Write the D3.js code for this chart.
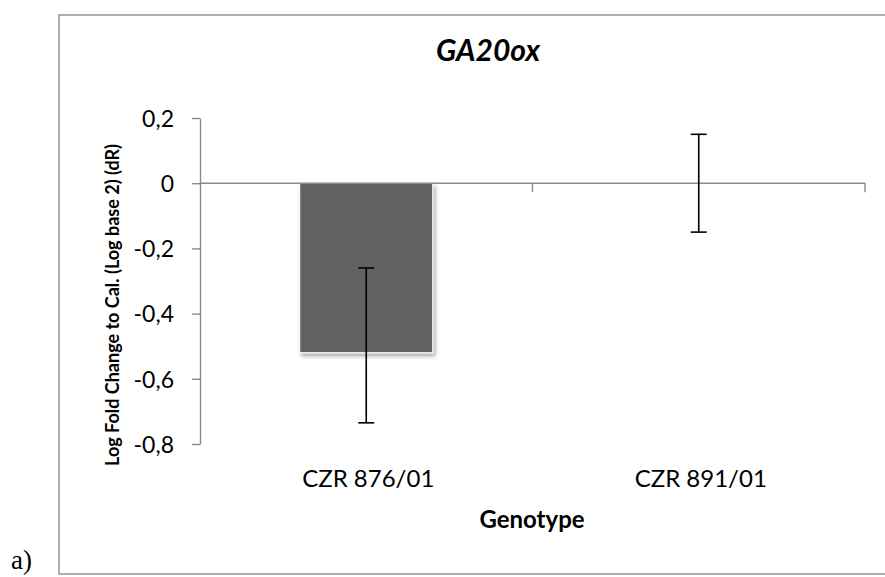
<!DOCTYPE html>
<html>
<head>
<meta charset="utf-8">
<script src="https://cdn.jsdelivr.net/npm/d3@7"></script>
<style>
    body { margin: 0; background: #fff; }
    svg text { font-family: Lato, "Open Sans", sans-serif; fill: #000; }
</style>
</head>
<body>
<div id="chart"></div>
<script>
// data
const genotypes = ["CZR 876/01", "CZR 891/01"];
const values = [-0.52, 0];
const errTop = [-0.26, 0.15];
const errBottom = [-0.735, -0.15];
const yTicks = [0.2, 0, -0.2, -0.4, -0.6, -0.8];

const width = 885, height = 577;
const margin = {top: 118, right: 20, bottom: 133, left: 200};
const plotRight = 865;

const svg = d3.select("#chart").append("svg")
    .attr("width", width)
    .attr("height", height);

const defs = svg.append("defs");
const shadow = defs.append("filter")
    .attr("id", "shadow")
    .attr("x", "-10%").attr("y", "-10%")
    .attr("width", "130%").attr("height", "130%");
shadow.append("feDropShadow")
    .attr("dx", 2).attr("dy", 3)
    .attr("stdDeviation", 2)
    .attr("flood-color", "#000")
    .attr("flood-opacity", 0.35);

// outer frame
svg.append("rect")
    .attr("x", 59).attr("y", 15)
    .attr("width", 840).attr("height", 559)
    .attr("fill", "none")
    .attr("stroke", "#8a8a8a")
    .attr("stroke-width", 1.4);

svg.append("text")
    .attr("x", 11).attr("y", 569)
    .style("font-family", "'Liberation Serif', 'Times New Roman', serif")
    .style("font-size", "27px")
    .text("a)");

const x = d3.scaleBand()
    .domain(genotypes)
    .range([margin.left, plotRight])
    .paddingInner(0.6)
    .paddingOuter(0.3);

const y = d3.scaleLinear()
    .domain([-0.8, 0.2])
    .range([444, margin.top]);

const fmt = d => d === 0 ? "0" : d3.format(".1f")(d).replace(".", ",").replace("−", "-");

// bars
svg.selectAll(".bar")
    .data(genotypes)
    .enter().append("rect")
    .attr("class", "bar")
    .attr("x", d => x(d))
    .attr("width", x.bandwidth())
    .attr("y", (d, i) => y(Math.max(0, values[i])))
    .attr("height", (d, i) => Math.abs(y(values[i]) - y(0)))
    .attr("fill", "#626262")
    .attr("stroke", "#fff")
    .attr("stroke-width", 1)
    .attr("filter", "url(#shadow)");

// y axis
const yAxis = d3.axisLeft(y)
    .tickValues(yTicks)
    .tickFormat(fmt)
    .tickSize(8)
    .tickSizeOuter(0)
    .tickPadding(18);

const yAxisG = svg.append("g")
    .attr("transform", `translate(${margin.left},0)`)
    .call(yAxis);
yAxisG.select(".domain").attr("stroke", "#8a8a8a").attr("stroke-width", 1.4);
yAxisG.selectAll(".tick line").attr("stroke", "#8a8a8a").attr("stroke-width", 1.4);
yAxisG.selectAll(".tick text")
    .style("font-size", "23px")
    .attr("dy", "0.36em");

// x axis along zero, ticks at band boundaries
const bounds = [margin.left, x(genotypes[1]) - x.step() * 0.3, plotRight];
const xAxisG = svg.append("g").attr("class", "x-axis");
xAxisG.append("line")
    .attr("x1", margin.left).attr("x2", plotRight)
    .attr("y1", y(0)).attr("y2", y(0))
    .attr("stroke", "#8a8a8a").attr("stroke-width", 1.4);
xAxisG.selectAll(".xtick")
    .data(bounds.slice(1))
    .enter().append("line")
    .attr("class", "xtick")
    .attr("x1", d => d).attr("x2", d => d)
    .attr("y1", y(0)).attr("y2", y(0) + 9)
    .attr("stroke", "#8a8a8a").attr("stroke-width", 1.4);

// category labels
svg.selectAll(".cat")
    .data(genotypes)
    .enter().append("text")
    .attr("class", "cat")
    .attr("x", d => x(d) + x.bandwidth() / 2 + 2)
    .attr("y", 487)
    .attr("text-anchor", "middle")
    .style("font-size", "24px")
    .text(d => d);

// error bars
const cap = 8;
const err = svg.selectAll(".err")
    .data(genotypes)
    .enter().append("g")
    .attr("class", "err")
    .attr("stroke", "#000")
    .attr("stroke-width", 1.6);
err.append("line")
    .attr("x1", d => x(d) + x.bandwidth() / 2)
    .attr("x2", d => x(d) + x.bandwidth() / 2)
    .attr("y1", (d, i) => y(errTop[i]))
    .attr("y2", (d, i) => y(errBottom[i]));
err.append("line")
    .attr("x1", d => x(d) + x.bandwidth() / 2 - cap)
    .attr("x2", d => x(d) + x.bandwidth() / 2 + cap)
    .attr("y1", (d, i) => y(errTop[i]))
    .attr("y2", (d, i) => y(errTop[i]));
err.append("line")
    .attr("x1", d => x(d) + x.bandwidth() / 2 - cap)
    .attr("x2", d => x(d) + x.bandwidth() / 2 + cap)
    .attr("y1", (d, i) => y(errBottom[i]))
    .attr("y2", (d, i) => y(errBottom[i]));

// titles
svg.append("text")
    .attr("x", 488).attr("y", 61)
    .attr("text-anchor", "middle")
    .style("font-size", "30px")
    .style("font-weight", "bold")
    .style("font-style", "italic")
    .text("GA20ox");

svg.append("text")
    .attr("x", 532).attr("y", 528)
    .attr("text-anchor", "middle")
    .style("font-size", "24px")
    .style("font-weight", "bold")
    .text("Genotype");

svg.append("text")
    .attr("transform", "translate(119,305) rotate(-90)")
    .attr("text-anchor", "middle")
    .style("font-size", "18px")
    .style("font-weight", "bold")
    .text("Log Fold Change to Cal. (Log base 2) (dR)");
</script>
</body>
</html>
